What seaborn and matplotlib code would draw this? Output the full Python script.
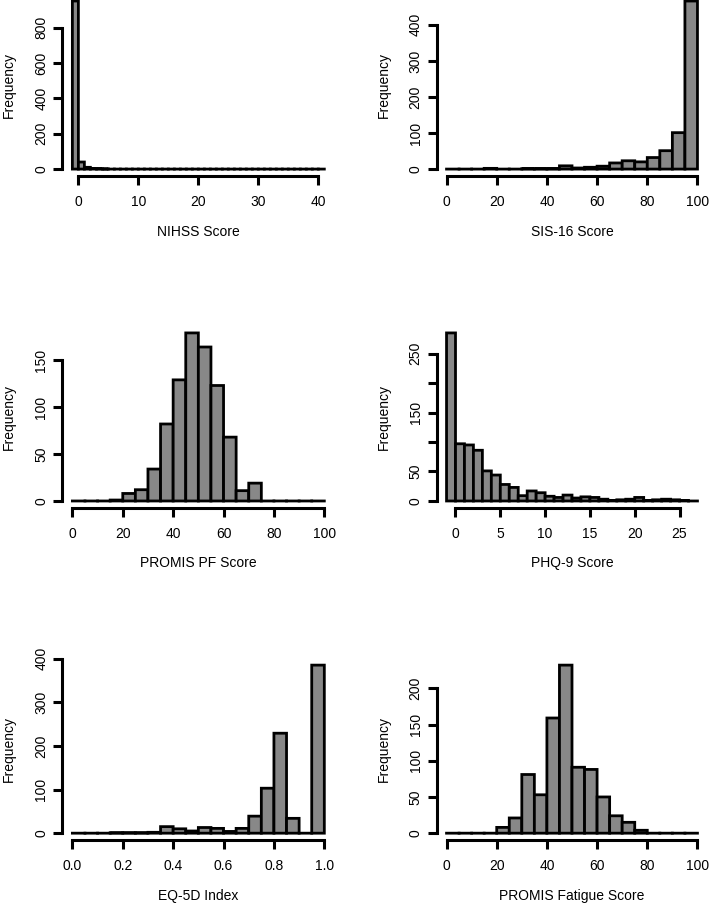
import numpy as np
import pandas as pd
import matplotlib
matplotlib.use("Agg")
import matplotlib.pyplot as plt
import seaborn as sns

# bin edges and counts
nihss_edges = np.arange(-1, 42, 1)
nihss_counts = [952, 40, 10, 3, 2, 1, 0, 0, 0, 0, 0, 0, 0, 0, 0, 0, 0, 0, 0, 0, 0,
                0, 0, 0, 0, 0, 0, 0, 0, 0, 0, 0, 0, 0, 0, 0, 0, 0, 0, 0, 0, 0]

sis_edges = np.arange(0, 105, 5)
sis_counts = [0, 0, 0, 2, 0, 0, 1, 1, 1, 9, 3, 5, 8, 17, 23, 20, 32, 51, 101, 466]

pf_edges = np.arange(0, 105, 5)
pf_counts = [0, 0, 0, 1, 8, 12, 34, 82, 129, 179, 164, 123, 68, 11, 19, 0, 0, 0, 0, 0]

phq_edges = np.arange(-1, 28, 1)
phq_counts = [285, 97, 95, 86, 51, 44, 28, 23, 9, 17, 14, 8, 6, 10, 5, 7, 6, 3, 1, 2,
              3, 6, 1, 2, 3, 2, 1, 0]

eq_edges = np.round(np.arange(0, 1.0001, 0.05), 2)
eq_counts = [0, 0, 0, 1, 1, 1, 2, 15, 10, 5, 13, 11, 4, 11, 39, 103, 229, 34, 0, 385]

fat_edges = np.arange(0, 105, 5)
fat_counts = [0, 0, 0, 0, 8, 21, 81, 53, 159, 232, 91, 88, 50, 24, 15, 4, 0, 0, 0, 0]

sns.set_theme(style="ticks")
plt.rcParams['font.family'] = ['Liberation Sans', 'DejaVu Sans']

W, H = 709, 906
fig = plt.figure(figsize=(W / 100, H / 100), dpi=100)

FS = 10
LW = 2.2


def draw(box, edges, counts, xticks, xlabels, yticks, ylabels, xlabel):
    left, right, top_px, bottom_px = box
    ax = fig.add_axes([left / W, 1 - bottom_px / H, (right - left) / W, (bottom_px - top_px) / H])
    edges = [float(e) for e in edges]
    centers = [(a + b) / 2 for a, b in zip(edges[:-1], edges[1:])]
    df = pd.DataFrame({"value": centers, "count": counts})
    sns.histplot(data=df, x="value", weights="count", bins=edges, ax=ax,
                 color="#888888", alpha=1, edgecolor="black", linewidth=2.0,
                 capstyle="projecting", joinstyle="miter", snap=False)
    span = edges[-1] - edges[0]
    ax.set_xlim(edges[0] - 0.04 * span, edges[-1] + 0.04 * span)
    ymax = max(counts)
    ax.set_ylim(-0.04 * ymax, 1.04 * ymax)
    for s in ["top", "right"]:
        ax.spines[s].set_visible(False)
    for s in ["left", "bottom"]:
        ax.spines[s].set_linewidth(LW)
        ax.spines[s].set_color("black")
        ax.spines[s].set_capstyle("projecting")
    ax.spines["left"].set_bounds(yticks[0], yticks[-1])
    ax.spines["bottom"].set_bounds(xticks[0], xticks[-1])
    ax.set_xticks(xticks, xlabels)
    ax.set_yticks(yticks, ylabels)
    for lab in ax.get_yticklabels():
        lab.set_rotation(90)
        lab.set_va("center")
    ax.tick_params(axis="both", length=6.5, width=LW, color="black", labelsize=FS,
                   labelcolor="black", direction="out")
    ax.tick_params(axis="x", pad=7.5)
    ax.tick_params(axis="y", pad=3.5)
    ax.set_xlabel(xlabel, fontsize=FS, labelpad=11, color="black")
    ax.set_ylabel("Frequency", fontsize=FS, labelpad=13, color="black")
    ax.set_facecolor("white")
    return ax


col_l = (62.3, 334.4)
col_r = (436.5, 707.5)
rows = [(-5.7, 175.8), (326.2, 507.7), (658.4, 839.9)]

draw(col_l + rows[0], nihss_edges, nihss_counts,
     [0, 10, 20, 30, 40], ["0", "10", "20", "30", "40"],
     [0, 200, 400, 600, 800], ["0", "200", "400", "600", "800"], "NIHSS Score")
draw(col_r + rows[0], sis_edges, sis_counts,
     [0, 20, 40, 60, 80, 100], ["0", "20", "40", "60", "80", "100"],
     [0, 100, 200, 300, 400], ["0", "100", "200", "300", "400"], "SIS-16 Score")
draw(col_l + rows[1], pf_edges, pf_counts,
     [0, 20, 40, 60, 80, 100], ["0", "20", "40", "60", "80", "100"],
     [0, 50, 100, 150], ["0", "50", "100", "150"], "PROMIS PF Score")
draw(col_r + rows[1], phq_edges, phq_counts,
     [0, 5, 10, 15, 20, 25], ["0", "5", "10", "15", "20", "25"],
     [0, 50, 100, 150, 200, 250], ["0", "50", "", "150", "", "250"], "PHQ-9 Score")
draw(col_l + rows[2], eq_edges, eq_counts,
     [0, 0.2, 0.4, 0.6, 0.8, 1.0], ["0.0", "0.2", "0.4", "0.6", "0.8", "1.0"],
     [0, 100, 200, 300, 400], ["0", "100", "200", "300", "400"], "EQ-5D Index")
draw(col_r + rows[2], fat_edges, fat_counts,
     [0, 20, 40, 60, 80, 100], ["0", "20", "40", "60", "80", "100"],
     [0, 50, 100, 150, 200], ["0", "50", "100", "150", "200"], "PROMIS Fatigue Score")

fig.savefig("out.png", dpi=100, facecolor="white")
